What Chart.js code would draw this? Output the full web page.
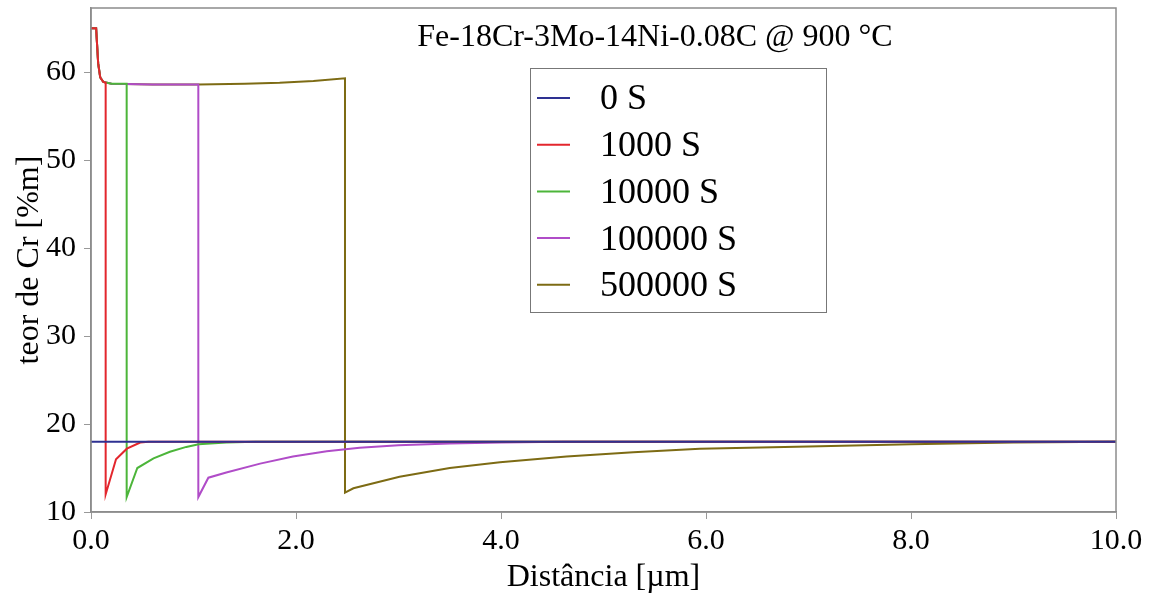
<!DOCTYPE html>
<html>
  <head>
    <meta charset="utf-8" />
    <title>Perfil de Cr</title>
    <script src="https://cdn.jsdelivr.net/npm/chart.js"></script>
    <style>
      html,
      body {
        margin: 0;
        padding: 0;
        background: #fff;
      }
      #wrap {
        width: 1150px;
        height: 601px;
      }
    </style>
  </head>
  <body>
    <div id="wrap"><canvas id="crgraph" width="1150" height="601"></canvas></div>

    <script type="text/javascript">
      // ---------------------------------------------
      // data (distance in um, Cr in %m)
      const seriesNames = ["0 S", "1000 S", "10000 S", "100000 S", "500000 S"];
      const seriesColors = ["#2e3192", "#e3262d", "#4cb53a", "#b04cc8", "#7d6b14"];

      const dist0 = [0, 10];
      const cr0 = [18, 18];

      const dist1000 = [0, 0.05, 0.07, 0.09, 0.12, 0.143, 0.143, 0.244, 0.35, 0.48, 0.56, 10];
      const cr1000 = [65, 65, 61, 59.4, 58.9, 58.8, 12.0, 16.0, 17.2, 17.9, 18.0, 18.0];

      const dist10000 = [0, 0.05, 0.07, 0.09, 0.12, 0.2, 0.348, 0.348, 0.452, 0.61, 0.77, 0.93, 1.05, 1.32, 1.6, 10];
      const cr10000 = [65, 65, 61, 59.4, 58.9, 58.7, 58.7, 11.7, 15.0, 16.1, 16.85, 17.4, 17.7, 17.9, 18.0, 18.0];

      const dist100000 = [0, 0.05, 0.07, 0.09, 0.12, 0.2, 0.6, 1.047, 1.047, 1.145, 1.32, 1.65, 1.97, 2.3, 2.62, 3.0, 3.5, 4.0, 4.6, 10];
      const cr100000 = [65, 65, 61, 59.4, 58.9, 58.7, 58.6, 58.6, 11.7, 13.9, 14.5, 15.5, 16.3, 16.9, 17.3, 17.6, 17.8, 17.9, 18.0, 18.0];

      const dist500000 = [0, 0.05, 0.07, 0.09, 0.12, 0.2, 0.6, 1.05, 1.5, 1.84, 2.17, 2.478, 2.478, 2.56, 3.01, 3.5, 3.99, 4.64, 5.29, 5.94, 7.0, 8.0, 9.0, 10];
      const cr500000 = [65, 65, 61, 59.4, 58.9, 58.7, 58.6, 58.6, 58.7, 58.8, 59.0, 59.3, 12.2, 12.7, 14.0, 15.0, 15.65, 16.3, 16.8, 17.2, 17.45, 17.7, 17.9, 18.0];

      const xTicks = [0, 2, 4, 6, 8, 10];
      const yTicks = [10, 20, 30, 40, 50, 60];
      const chartTitle = "Fe-18Cr-3Mo-14Ni-0.08C @ 900 °C";

      const allDist = [dist0, dist1000, dist10000, dist100000, dist500000];
      const allCr = [cr0, cr1000, cr10000, cr100000, cr500000];

      function pairs(xs, ys) {
        return xs.map((x, i) => ({ x: x, y: ys[i] }));
      }

      const serif = "'Liberation Serif', 'DejaVu Serif', serif";

      // ---------------------------------------------
      // frame round the plot, title and boxed legend inside it
      const framePlugin = {
        id: "frame",
        afterDraw(chart) {
          const ctx = chart.ctx;
          const a = chart.chartArea;
          ctx.save();
          ctx.strokeStyle = "#8c8c8c";
          ctx.lineWidth = 1.5;
          ctx.strokeRect(a.left, a.top, a.right - a.left, a.bottom - a.top);

          // title
          ctx.fillStyle = "#000";
          ctx.font = "32px " + serif;
          ctx.textAlign = "center";
          ctx.textBaseline = "alphabetic";
          ctx.fillText(chartTitle, 655, 46);

          // legend box
          const bx = 530, by = 68, bw = 296, bh = 244;
          ctx.fillStyle = "#fff";
          ctx.fillRect(bx, by, bw, bh);
          ctx.strokeStyle = "#777";
          ctx.lineWidth = 1;
          ctx.strokeRect(bx + 0.5, by + 0.5, bw, bh);

          ctx.font = "36px " + serif;
          ctx.textAlign = "left";
          ctx.textBaseline = "middle";
          chart.data.datasets.forEach((ds, i) => {
            const yy = 98 + i * 46.7;
            ctx.strokeStyle = ds.borderColor;
            ctx.lineWidth = 2;
            ctx.beginPath();
            ctx.moveTo(537, yy);
            ctx.lineTo(570, yy);
            ctx.stroke();
            ctx.fillStyle = "#000";
            ctx.fillText(ds.label, 600, yy + 2);
          });
          ctx.restore();
        },
      };

      const crChartConfig = {
        type: "line",
        data: {
          datasets: seriesNames.map((name, i) => ({
            label: name,
            data: pairs(allDist[i], allCr[i]),
            borderColor: seriesColors[i],
            backgroundColor: seriesColors[i],
            borderWidth: 2,
            pointRadius: 0,
            tension: 0,
            fill: false,
          })),
        },
        options: {
          responsive: false,
          animation: false,
          layout: { padding: { left: 0, right: 34, top: 8, bottom: 0 } },
          plugins: {
            legend: { display: false },
            title: { display: false },
            tooltip: { enabled: false },
          },
          scales: {
            x: {
              type: "linear",
              min: 0,
              max: 10,
              afterBuildTicks: (s) => {
                s.ticks = xTicks.map((v) => ({ value: v }));
              },
              afterFit: (s) => {
                s.height = 89;
              },
              ticks: {
                color: "#000",
                font: { family: serif, size: 30 },
                padding: 4,
                maxRotation: 0,
                callback: (v) => Number(v).toFixed(1),
              },
              grid: {
                drawOnChartArea: false,
                drawTicks: true,
                tickLength: 7,
                color: "#999",
              },
              border: { display: true, color: "#8c8c8c", width: 1.5 },
              title: {
                display: true,
                text: "Distância [µm]",
                color: "#000",
                font: { family: serif, size: 32 },
                padding: { top: 0, bottom: 4 },
              },
            },
            y: {
              type: "linear",
              min: 10,
              max: 67.3,
              afterBuildTicks: (s) => {
                s.ticks = yTicks.map((v) => ({ value: v }));
              },
              afterFit: (s) => {
                s.width = 91;
                s.paddingTop = 0;
                s.paddingBottom = 0;
              },
              ticks: {
                color: "#000",
                font: { family: serif, size: 30 },
                padding: 8,
              },
              grid: {
                drawOnChartArea: false,
                drawTicks: true,
                tickLength: 7,
                color: "#999",
              },
              border: { display: true, color: "#8c8c8c", width: 1.5 },
              title: {
                display: true,
                text: "teor de Cr [%m]",
                color: "#000",
                font: { family: serif, size: 32 },
                padding: { top: 10, bottom: 0 },
              },
            },
          },
        },
        plugins: [framePlugin],
      };

      const crChart = new Chart(document.getElementById("crgraph"), crChartConfig);
    </script>
  </body>
</html>
